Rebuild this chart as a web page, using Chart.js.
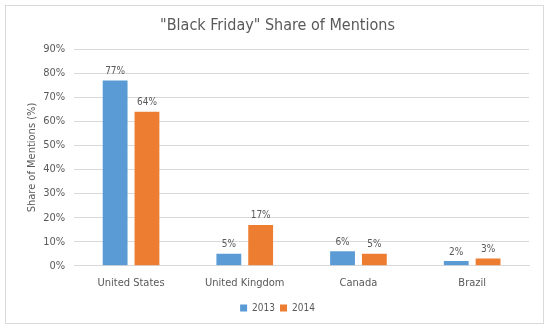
<!DOCTYPE html>
<html>
<head>
<meta charset="utf-8">
<script src="https://cdn.jsdelivr.net/npm/chart.js@4/dist/chart.umd.min.js"></script>
<style>
  html, body { margin: 0; padding: 0; background: #fff; }
  #box {
    position: absolute; left: 5px; top: 5px; width: 539px; height: 319px;
    border: 1px solid #d9d9d9; box-sizing: border-box;
  }
  #chart { display: block; }
</style>
</head>
<body>
<div id="box"><canvas id="chart" width="537" height="317"></canvas></div>
<script>
const countries = ['United States', 'United Kingdom', 'Canada', 'Brazil'];
const years = ['2013', '2014'];
const share2013 = [77, 5, 6, 2];
const share2014 = [64, 17, 5, 3];
const yTicks = [0, 10, 20, 30, 40, 50, 60, 70, 80, 90];

const FONT = "'DejaVu Sans Condensed', 'Liberation Sans Narrow', sans-serif";
const GREY = '#595959';

// value labels drawn above each bar
const barLabels = {
  id: 'barLabels',
  afterDatasetsDraw(chart) {
    const ctx = chart.ctx;
    ctx.save();
    ctx.font = '10px ' + FONT;
    ctx.fillStyle = GREY;
    ctx.textAlign = 'center';
    ctx.textBaseline = 'bottom';
    chart.data.datasets.forEach((ds, i) => {
      chart.getDatasetMeta(i).data.forEach((bar, j) => {
        ctx.fillText(ds.data[j] + '%', bar.x, bar.y - 4);
      });
    });
    ctx.restore();
  }
};

new Chart(document.getElementById('chart'), {
  type: 'bar',
  data: {
    labels: countries,
    datasets: [
      {
        label: years[0],
        data: share2013,
        backgroundColor: '#5b9bd5',
        barPercentage: 0.78,
        categoryPercentage: 0.56
      },
      {
        label: years[1],
        data: share2014,
        backgroundColor: '#ed7d31',
        barPercentage: 0.78,
        categoryPercentage: 0.56
      }
    ]
  },
  options: {
    responsive: false,
    animation: false,
    layout: { padding: { left: 20, right: 14, top: 4, bottom: 0 } },
    plugins: {
      title: {
        display: true,
        text: '"Black Friday" Share of Mentions',
        color: GREY,
        font: { family: FONT, size: 16, weight: 'normal' },
        padding: { top: 6, bottom: 14 }
      },
      legend: {
        position: 'bottom',
        labels: {
          color: GREY,
          font: { family: FONT, size: 10 },
          boxWidth: 7,
          boxHeight: 7,
          padding: 5
        }
      },
      tooltip: { enabled: false }
    },
    scales: {
      x: {
        grid: { display: false },
        border: { color: '#d9d9d9' },
        ticks: { color: GREY, font: { family: FONT, size: 11 }, padding: 3 },
        // extra room between the country names and the legend
        afterFit(scale) { scale.height += 5; }
      },
      y: {
        min: 0,
        max: 90,
        afterBuildTicks(axis) {
          axis.ticks = yTicks.map(v => ({ value: v }));
        },
        afterFit(scale) { scale.width -= 5; },
        grid: { color: '#d9d9d9', drawTicks: false },
        border: { display: false },
        ticks: {
          color: GREY,
          font: { family: FONT, size: 11 },
          padding: 9,
          callback: v => v + '%'
        },
        title: {
          display: true,
          text: 'Share of Mentions (%)',
          color: GREY,
          font: { family: FONT, size: 11 },
          padding: { top: 0, bottom: 0 }
        }
      }
    }
  },
  plugins: [barLabels]
});
</script>
</body>
</html>
